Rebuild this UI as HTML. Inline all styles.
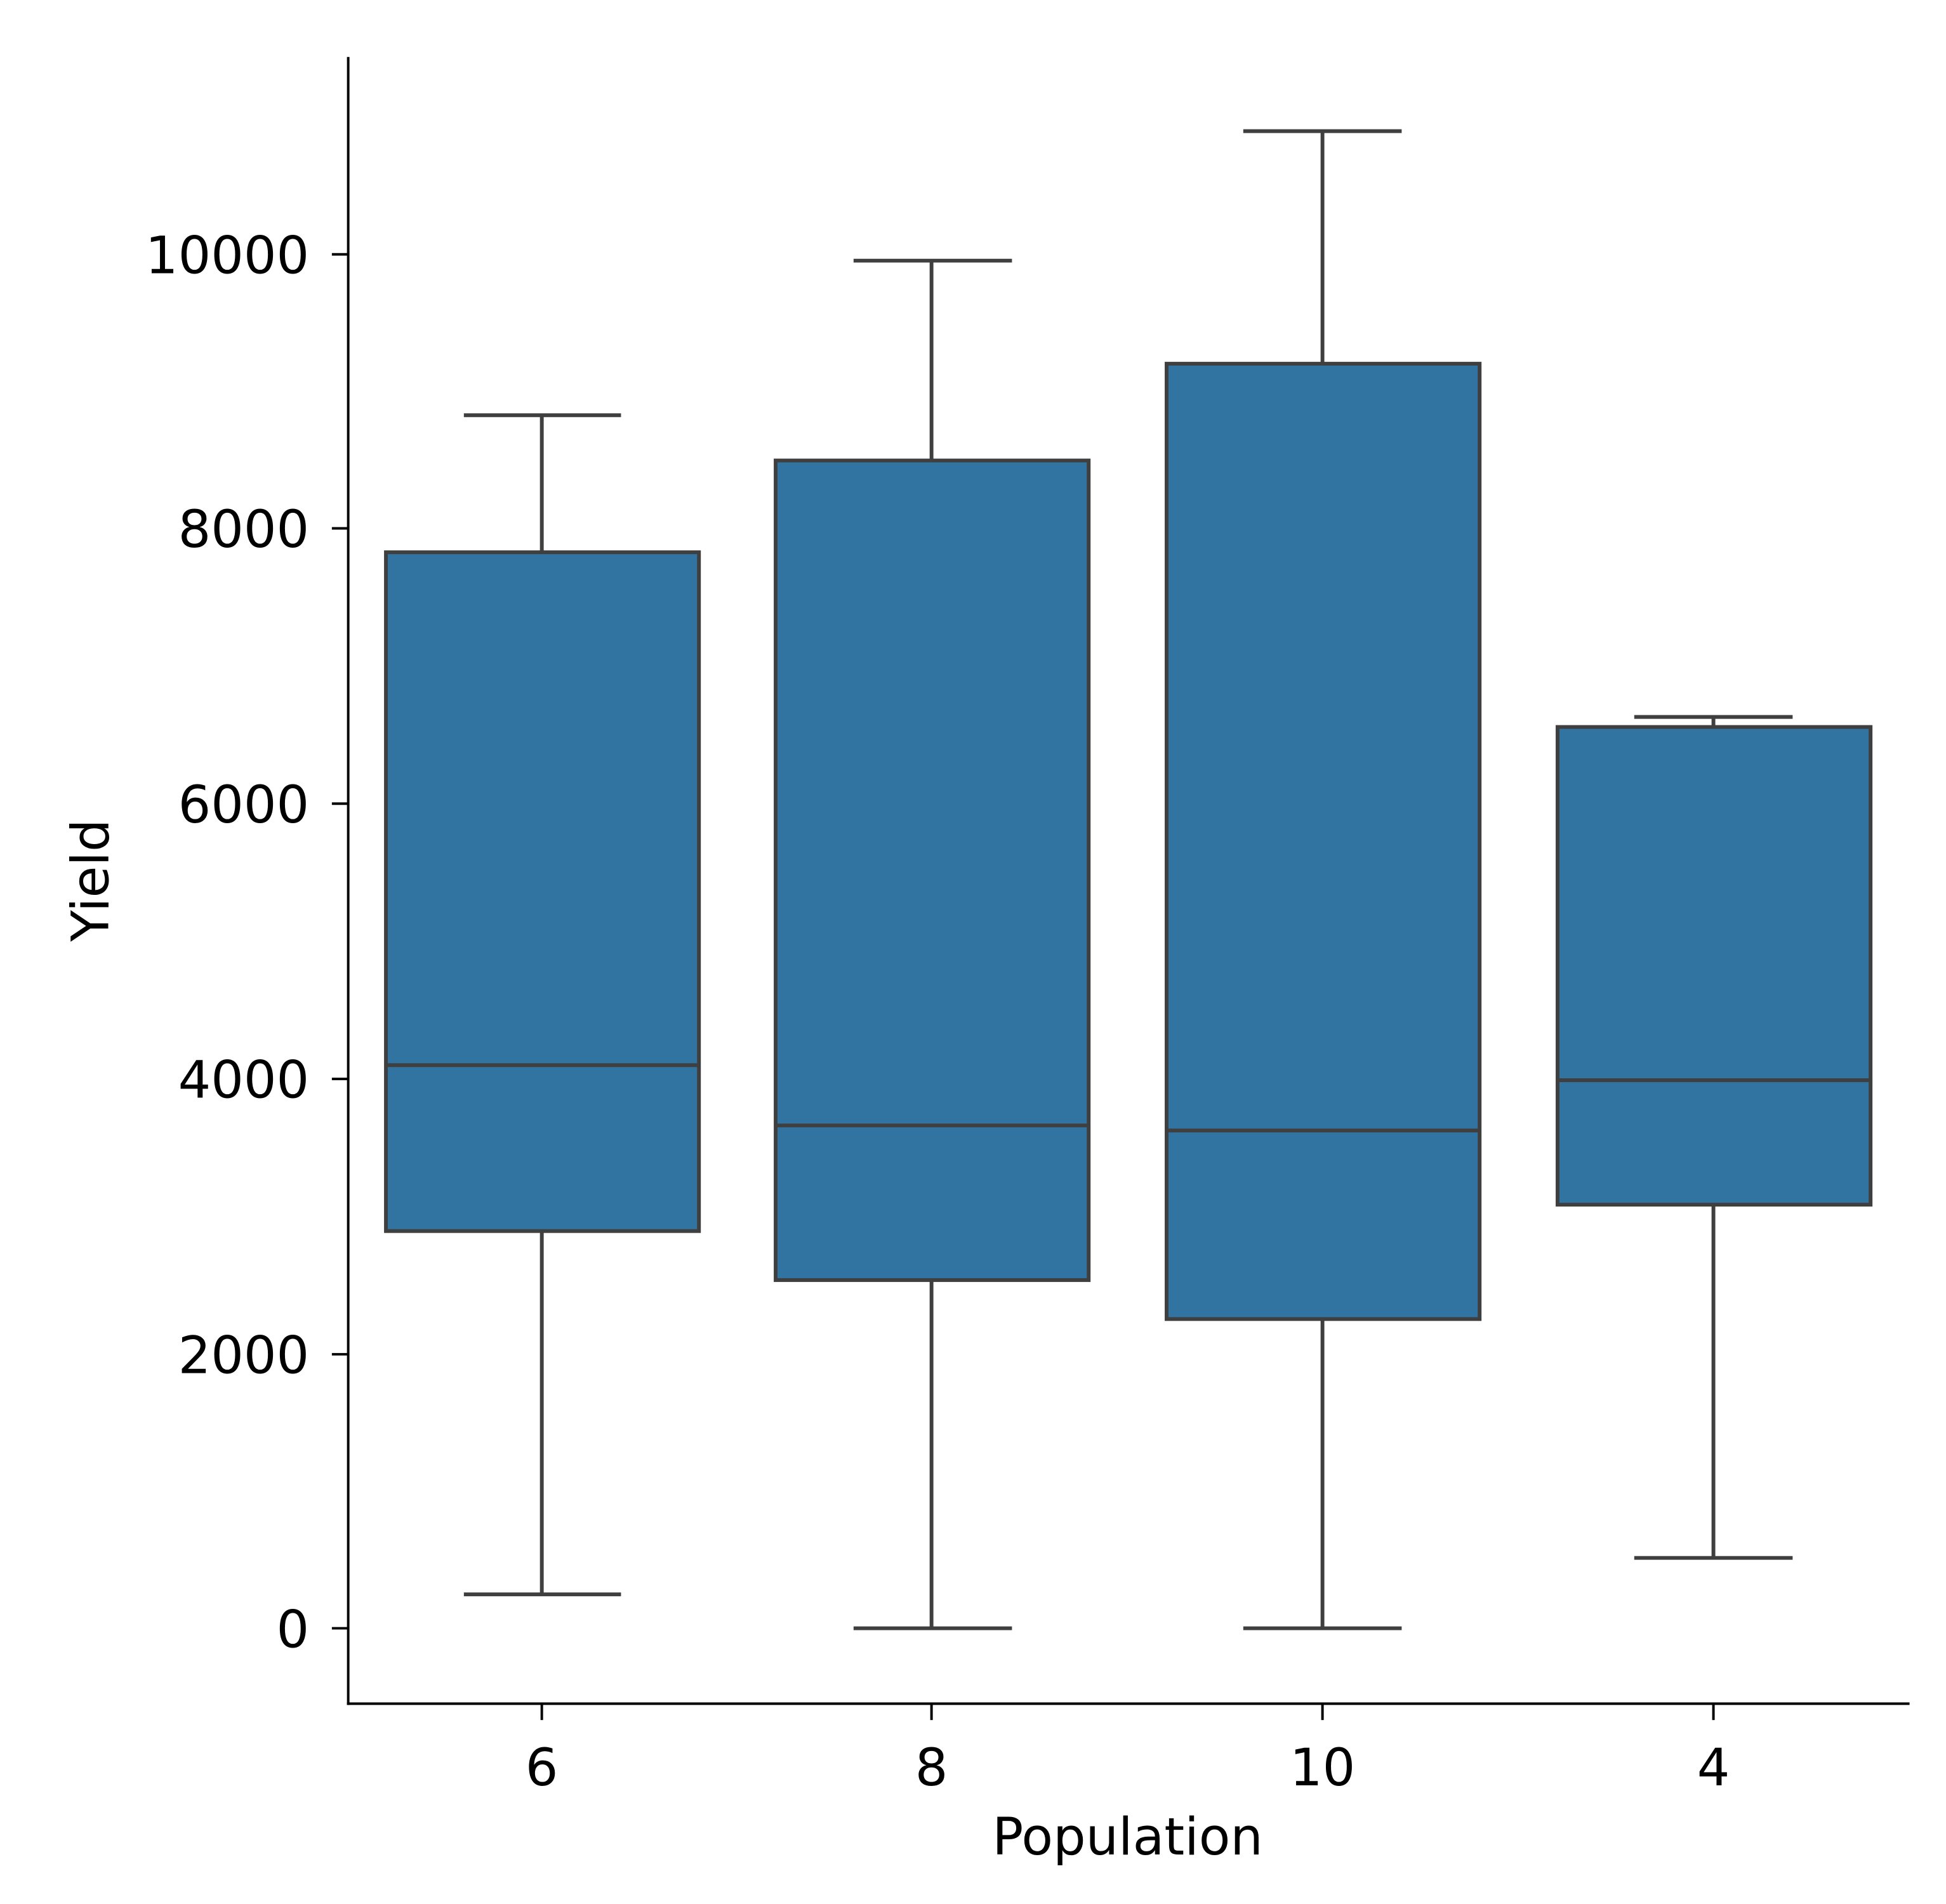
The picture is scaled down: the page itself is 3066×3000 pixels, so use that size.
<!DOCTYPE html>
<html><head><style>html,body{margin:0;padding:0;background:#fff}svg{display:block}</style></head>
<body>
<svg width="3066" height="3000" viewBox="0 0 1548 1514" xmlns="http://www.w3.org/2000/svg" font-family="DejaVu Sans, Liberation Sans, sans-serif">
<rect width="1548" height="1514" fill="#fff"/>
<g stroke="#3f3f3f" stroke-width="3" fill="none">
  <line x1="431" y1="330" x2="431" y2="439"/><line x1="431" y1="979" x2="431" y2="1268"/>
  <line x1="369" y1="330" x2="494" y2="330"/><line x1="369" y1="1268" x2="494" y2="1268"/>
  <line x1="741" y1="207" x2="741" y2="366"/><line x1="741" y1="1018" x2="741" y2="1295"/>
  <line x1="679" y1="207" x2="805" y2="207"/><line x1="679" y1="1295" x2="805" y2="1295"/>
  <line x1="1052" y1="104" x2="1052" y2="289"/><line x1="1052" y1="1049" x2="1052" y2="1295"/>
  <line x1="989" y1="104" x2="1115" y2="104"/><line x1="989" y1="1295" x2="1115" y2="1295"/>
  <line x1="1363" y1="570" x2="1363" y2="578"/><line x1="1363" y1="958" x2="1363" y2="1239"/>
  <line x1="1300" y1="570" x2="1426" y2="570"/><line x1="1300" y1="1239" x2="1426" y2="1239"/>
</g>
<g stroke="#3f3f3f" stroke-width="3" fill="#3274a1">
  <rect x="307" y="439" width="249" height="540"/>
  <rect x="617" y="366" width="249" height="652"/>
  <rect x="928" y="289" width="249" height="760"/>
  <rect x="1239" y="578" width="249" height="380"/>
</g>
<g stroke="#3f3f3f" stroke-width="3">
  <line x1="307" y1="847" x2="556" y2="847"/>
  <line x1="617" y1="895" x2="866" y2="895"/>
  <line x1="928" y1="899" x2="1177" y2="899"/>
  <line x1="1239" y1="859" x2="1488" y2="859"/>
</g>
<g stroke="#000" stroke-width="2">
  <line x1="277" y1="45" x2="277" y2="1356"/>
  <line x1="276" y1="1355" x2="1519" y2="1355"/>
  <line x1="264" y1="202" x2="277" y2="202"/><line x1="264" y1="420" x2="277" y2="420"/>
  <line x1="264" y1="639" x2="277" y2="639"/><line x1="264" y1="858" x2="277" y2="858"/>
  <line x1="264" y1="1077" x2="277" y2="1077"/><line x1="264" y1="1295" x2="277" y2="1295"/>
  <line x1="431" y1="1355" x2="431" y2="1368"/><line x1="741" y1="1355" x2="741" y2="1368"/>
  <line x1="1052" y1="1355" x2="1052" y2="1368"/><line x1="1363" y1="1355" x2="1363" y2="1368"/>
</g>
<g font-size="41" fill="#000" text-anchor="end">
  <text x="246" y="217">10000</text><text x="246" y="435">8000</text>
  <text x="246" y="654">6000</text><text x="246" y="873">4000</text>
  <text x="246" y="1092">2000</text><text x="246" y="1310">0</text>
</g>
<g font-size="41" fill="#000" text-anchor="middle">
  <text x="431" y="1420">6</text><text x="741" y="1420">8</text>
  <text x="1052" y="1420">10</text><text x="1363" y="1420">4</text>
  <text x="897" y="1475">Population</text>
  <text transform="translate(86,700) rotate(-90)">Yield</text>
</g>
</svg>
</body></html>
